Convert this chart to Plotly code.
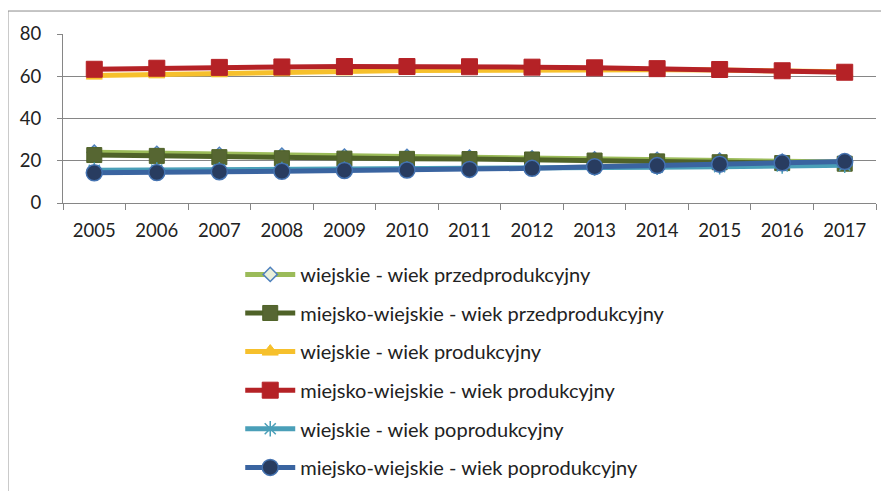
import plotly.graph_objects as go

years = [str(y) for y in range(2005, 2018)]

# share of population (%) by age group, rural vs urban-rural communes
wiejskie_przed = [24.0, 23.5, 23.0, 22.6, 22.2, 22.0, 21.7, 21.3, 20.9, 20.6, 20.2, 19.8, 19.4]
miejsko_przed = [22.7, 22.3, 21.7, 21.2, 21.0, 20.9, 20.8, 20.6, 20.1, 19.7, 19.3, 18.9, 18.6]
wiejskie_prod = [60.3, 60.9, 61.4, 61.9, 62.3, 62.7, 62.9, 63.1, 63.2, 63.1, 62.9, 62.6, 62.1]
miejsko_prod = [63.3, 63.8, 64.2, 64.4, 64.6, 64.6, 64.5, 64.3, 64.0, 63.6, 63.2, 62.6, 61.9]
wiejskie_poprod = [15.5, 15.6, 15.7, 15.8, 16.0, 16.1, 16.2, 16.4, 16.6, 16.9, 17.2, 17.5, 17.9]
miejsko_poprod = [14.3, 14.4, 14.8, 15.0, 15.4, 15.6, 15.9, 16.4, 17.2, 17.7, 18.4, 19.0, 19.6]

series = [
    ("wiejskie - wiek przedprodukcyjny", wiejskie_przed, "#9bbb59",
     dict(symbol="diamond", size=11, color="#e9f0da", line=dict(color="#4f81bd", width=1.5))),
    ("miejsko-wiejskie - wiek przedprodukcyjny", miejsko_przed, "#4f6228",
     dict(symbol="square", size=15, color="#566632", line=dict(color="#4f6228", width=1))),
    ("wiejskie - wiek produkcyjny", wiejskie_prod, "#f6c02c",
     dict(symbol="triangle-up", size=14, color="#f6c02c", line=dict(color="#f6c02c", width=1))),
    ("miejsko-wiejskie - wiek produkcyjny", miejsko_prod, "#b52226",
     dict(symbol="square", size=16, color="#b52226", line=dict(color="#b52226", width=1))),
    ("wiejskie - wiek poprodukcyjny", wiejskie_poprod, "#4a9fb8",
     dict(symbol="asterisk-open", size=13, color="#4a9fb8", line=dict(color="#4a9fb8", width=1.5))),
    ("miejsko-wiejskie - wiek poprodukcyjny", miejsko_poprod, "#3a64a0",
     dict(symbol="circle", size=16, color="#283c60", line=dict(color="#4472b0", width=1.5))),
]

fig = go.Figure()
for i, (name, vals, color, marker) in enumerate(series):
    fig.add_trace(
        go.Scatter(
            x=years,
            y=vals,
            name=name,
            mode="lines+markers",
            line=dict(color=color, width=5),
            marker=marker,
            legendgroup=str(i),
        )
    )

# outer chart border
fig.add_shape(
    type="rect", xref="paper", yref="paper",
    x0=-0.0677, x1=1.2, y0=-3, y1=1.136,
    line=dict(color="#8c8c8c", width=1), layer="below",
)

fig.update_layout(
    width=881,
    height=483,
    margin=dict(l=55, r=13, t=26, b=288, autoexpand=False),
    plot_bgcolor="white",
    paper_bgcolor="white",
    font=dict(family="Lato, 'Open Sans', sans-serif", size=18, color="#222222"),
    xaxis=dict(
        type="category",
        showgrid=False,
        showline=True,
        linecolor="#868686",
        linewidth=1,
        ticks="outside",
        tickson="boundaries",
        ticklen=6,
        tickcolor="#868686",
        tickfont=dict(size=18.5),
        ticklabelstandoff=11,
        range=[-0.5, 12.5],
    ),
    yaxis=dict(
        range=[0, 80],
        tickvals=[0, 20, 40, 60, 80],
        showgrid=True,
        gridcolor="#868686",
        gridwidth=1,
        showline=True,
        linecolor="#868686",
        ticks="outside",
        ticklen=5,
        tickcolor="#868686",
        zeroline=False,
        tickfont=dict(size=18.5),
        ticklabelstandoff=12,
    ),
    legend=dict(
        x=0.218,
        y=-0.307,
        xanchor="left",
        yanchor="top",
        orientation="v",
        tracegroupgap=9.6,
        itemwidth=50,
        font=dict(size=20, color="#222222"),
        bgcolor="rgba(0,0,0,0)",
    ),
)

fig.write_html("out.html")
